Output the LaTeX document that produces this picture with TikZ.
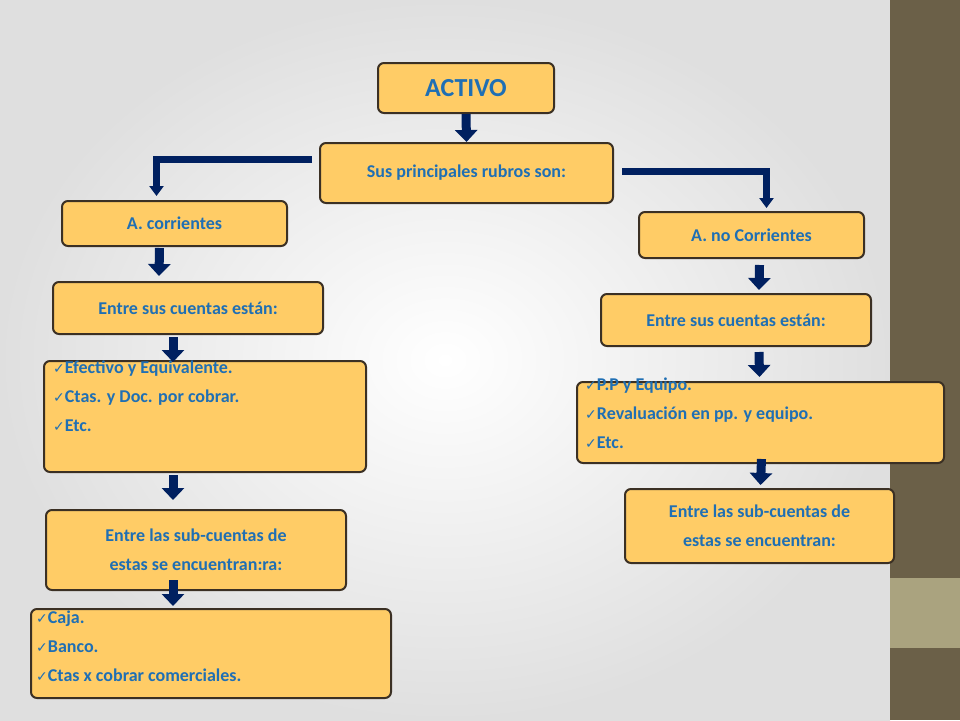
\documentclass[tikz,border=0pt]{standalone}
\usepackage{fontspec}
\setmainfont{Carlito}
\newfontfamily\symfont{DejaVu Sans}
\usetikzlibrary{arrows.meta,positioning,calc}
\definecolor{boxfill}{HTML}{FFCC66}
\definecolor{boxline}{HTML}{3B3024}
\definecolor{txtblue}{HTML}{1F6FB4}
\definecolor{navy}{HTML}{002060}
\definecolor{stripdark}{HTML}{6B6048}
\definecolor{striplight}{HTML}{AAA37F}
\tikzstyle{rubro} = [rectangle, rounded corners=6pt, draw=boxline, line width=2pt, fill=boxfill, text=txtblue, font=\fontsize{18}{29}\selectfont\bfseries, align=center, anchor=north west, inner sep=0pt]
\tikzstyle{lista} = [rubro]
\tikzstyle{items} = [text=txtblue, font=\fontsize{18}{29}\selectfont\bfseries, align=left, anchor=north west, inner sep=0pt]
\tikzstyle{flecha} = [navy, line width=9pt, -{Triangle[width=22pt,length=12pt]}]
\tikzstyle{codo} = [navy, line width=7pt, -{Triangle[width=14pt,length=10pt]}]
\newcommand{\chk}{{\symfont\fontsize{14}{14}\selectfont ✓}}
\begin{document}
\begin{tikzpicture}[x=1pt,y=-1pt]
\shade[inner color=white, outer color=gray!25] (0,0) rectangle (890,720);
\fill[stripdark] (890,0) rectangle (960,720);
\fill[striplight] (890,578) rectangle (960,648);
\useasboundingbox (0,0) rectangle (960,720);
% top
\node (activo) [rubro, minimum width=176pt, minimum height=50pt, font=\fontsize{26}{30}\selectfont\bfseries] at (377,62) {ACTIVO};
\node (rubros) [rubro, minimum width=293pt, minimum height=60pt] at (319,142) {Sus principales rubros son:};
% left branch
\node (corr) [rubro, minimum width=225pt, minimum height=45pt] at (61,200) {A. corrientes};
\node (cuentasL) [rubro, minimum width=270pt, minimum height=52pt] at (52,281) {Entre sus cuentas están:};
\node (efectivo) [lista, minimum width=322pt, minimum height=111pt] at (43,360) {};
\node [items] at (53,361) {\chk Efectivo y Equivalente.\\\chk Ctas. y Doc. por cobrar.\\\chk Etc.};
\node (subL) [rubro, minimum width=300pt, minimum height=80pt] at (45,509) {Entre las sub-cuentas de\\estas se encuentran:ra:};
\node (caja) [lista, minimum width=360pt, minimum height=89pt] at (30,608) {};
\node [items] at (36,611) {\chk Caja.\\\chk Banco.\\\chk Ctas x cobrar comerciales.};
% right branch
\node (nocorr) [rubro, minimum width=225pt, minimum height=46pt] at (638,211) {A. no Corrientes};
\node (cuentasR) [rubro, minimum width=270pt, minimum height=52pt] at (600,293) {Entre sus cuentas están:};
\node (ppe) [lista, minimum width=367pt, minimum height=81pt] at (576,381) {};
\node [items] at (585,378) {\chk P.P y Equipo.\\\chk Revaluación en pp. y equipo.\\\chk Etc.};
\node (subR) [rubro, minimum width=269pt, minimum height=74pt] at (624,488) {Entre las sub-cuentas de\\estas se encuentran:};
% connectors
\draw [flecha] (activo.south) -- (rubros.north);
\coordinate (codoL) at ($(rubros.west)+(-7,-14)$);
\coordinate (codoR) at ($(rubros.east)+(8,-2)$);
\draw [codo] (codoL) -| ($(corr.north)+(-18,-4)$);
\draw [codo] (codoR) -| ($(nocorr.north)+(15,-3)$);
\draw [flecha] ($(corr.south)+(-15,1)$) -- ($(cuentasL.north)+(-29,-5)$);
\draw [flecha] ($(cuentasL.south)+(-15,2)$) -- ($(efectivo.north)+(-32,2)$);
\draw [flecha] ($(efectivo.south)+(-32,2)$) -- ($(subL.north)+(-23,-9)$);
\draw [flecha] ($(subL.south)+(-23,-11)$) -- ($(caja.north)+(-38,-2)$);
\draw [flecha] ($(nocorr.south)+(8,6)$) -- ($(cuentasR.north)+(23,-3)$);
\draw [flecha] ($(cuentasR.south)+(23,5)$) -- ($(ppe.north)+(-1,-4)$);
\draw [flecha] ($(ppe.south)+(1,-5)$) -- ($(subR.north)+(1,-3)$);
\end{tikzpicture}
\end{document}
